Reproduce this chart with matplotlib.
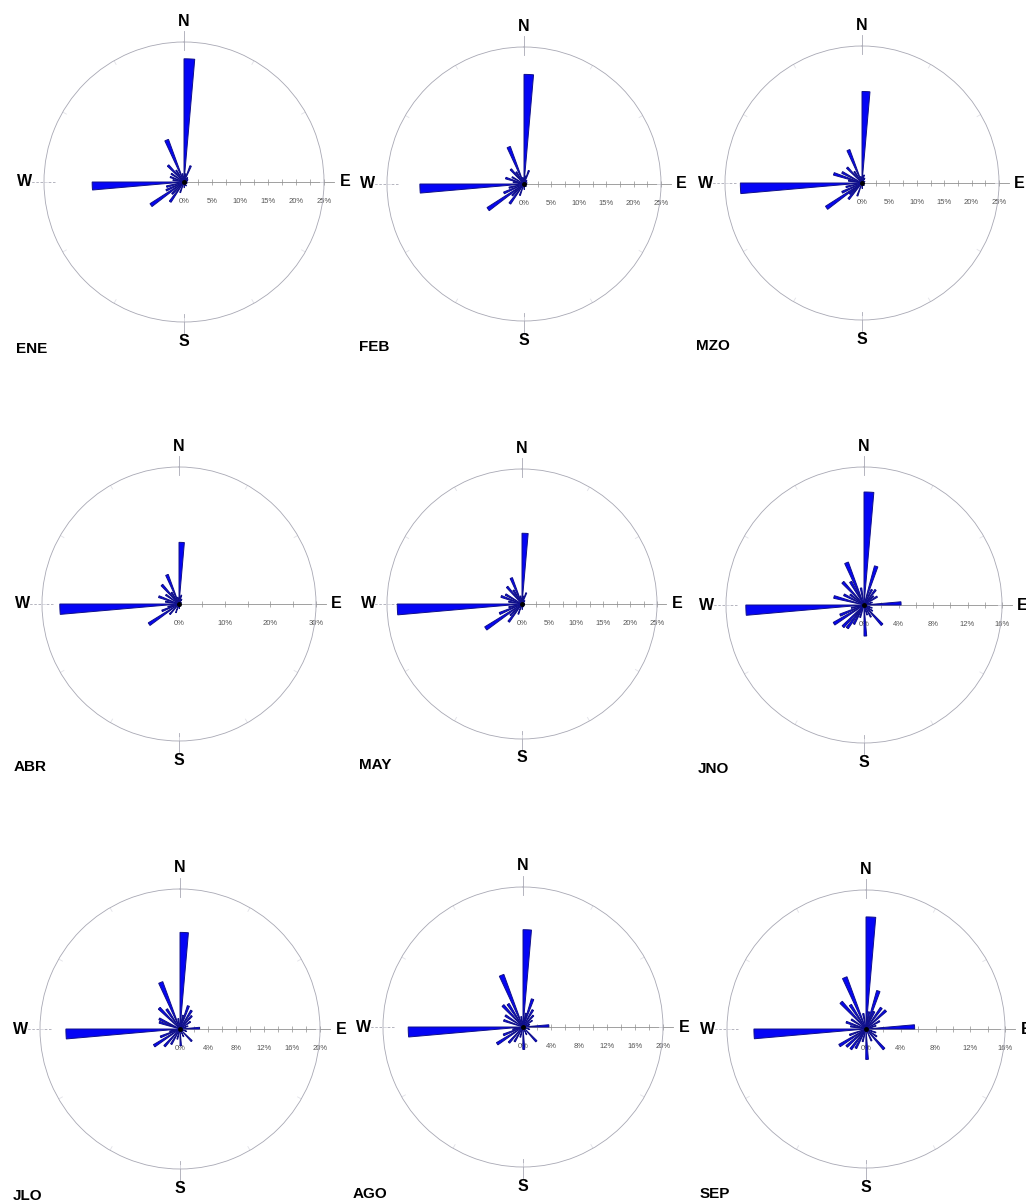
import numpy as np
import matplotlib
matplotlib.use("Agg")
import matplotlib.pyplot as plt

plt.rcParams['font.family'] = ['Liberation Sans', 'DejaVu Sans']

# rosas de viento mensuales: rumbo (grados) y frecuencia (%)
meses = ["ENE", "FEB", "MZO", "ABR", "MAY", "JNO", "JLO", "AGO", "SEP"]

ene_dir = [2.5, 12.5, 22.5, 40, 60, 90, 120, 150, 177.5, 200, 215, 225, 235, 245, 255, 267.5, 280, 290, 303, 316, 326, 337.5, 350]
ene_pct = [22.0, 1.5, 3.1, 1.0, 0.8, 0.6, 0.6, 0.8, 1.0, 2.0, 4.3, 3.0, 7.2, 3.5, 3.2, 16.4, 2.0, 2.6, 2.7, 4.1, 2.5, 8.1, 1.5]

feb_dir = [2.5, 12.5, 20, 40, 70, 100, 140, 177.5, 200, 216, 226, 235, 246, 256, 267.5, 280, 288, 300, 318, 327, 337.5, 350]
feb_pct = [20.0, 1.5, 2.6, 0.8, 0.6, 0.5, 0.6, 1.0, 2.2, 4.4, 3.0, 8.0, 4.0, 2.8, 19.0, 2.0, 3.5, 2.5, 3.6, 2.6, 7.3, 1.2]

mzo_dir = [2.5, 15, 30, 60, 100, 140, 177.5, 200, 220, 228, 235, 245, 256, 267.5, 280, 288, 298, 316, 326, 337.5, 350]
mzo_pct = [16.7, 1.5, 1.0, 0.6, 0.5, 0.6, 1.0, 2.5, 3.8, 3.0, 7.9, 4.0, 3.0, 22.2, 2.5, 5.4, 4.1, 3.9, 2.5, 6.5, 1.2]

abr_dir = [2.5, 15, 30, 60, 100, 140, 177.5, 200, 222, 236, 248, 256, 267.5, 280, 290, 305, 318, 327, 337.5, 350]
abr_pct = [13.5, 2.0, 1.2, 0.6, 0.5, 0.6, 1.0, 2.0, 3.0, 7.9, 4.0, 2.5, 26.1, 3.0, 4.7, 3.5, 5.6, 3.0, 6.9, 1.5]

may_dir = [2.5, 12.5, 21, 40, 70, 110, 150, 177.5, 200, 217, 226, 236, 247, 256, 267.5, 280, 290, 300, 319, 328, 337.5, 350]
may_pct = [13.1, 1.5, 2.2, 0.8, 0.5, 0.5, 0.6, 1.0, 2.0, 4.1, 3.0, 8.1, 4.5, 2.5, 23.1, 2.5, 4.1, 3.5, 4.2, 3.0, 5.2, 1.5]

jno_dir = [2.5, 17.5, 27, 37.5, 47, 57.5, 72.5, 87.5, 110, 125, 137.5, 150, 162.5, 177.5, 197.5, 208, 216, 224, 238, 247, 257, 267.5, 285, 297, 307, 317, 330, 337.5, 350]
jno_pct = [13.1, 4.7, 2.0, 2.2, 1.5, 1.8, 1.0, 4.3, 1.0, 1.2, 3.1, 1.6, 1.2, 3.6, 1.5, 2.5, 3.3, 3.5, 4.1, 3.0, 1.5, 13.7, 3.6, 2.6, 2.0, 3.6, 3.1, 5.3, 2.0]

jlo_dir = [2.5, 12.5, 20, 32, 42, 55, 70, 87.5, 110, 136, 155, 177.5, 195, 210, 222, 237, 248, 257, 267.5, 288, 296, 315, 326, 337.5, 350]
jlo_pct = [13.8, 2.0, 3.5, 3.1, 2.5, 1.8, 1.2, 2.8, 1.0, 2.4, 1.2, 2.4, 1.5, 2.5, 3.3, 4.4, 3.0, 1.5, 16.3, 3.1, 3.3, 4.2, 3.4, 7.2, 1.5]

ago_dir = [2.5, 12, 19, 30, 42, 55, 70, 87.5, 110, 137, 155, 178, 195, 210, 222, 237, 248, 257, 267.5, 289, 303, 317, 327, 337.5, 350]
ago_pct = [13.9, 2.0, 4.2, 2.8, 2.2, 1.6, 1.0, 3.7, 1.0, 2.8, 1.2, 3.2, 1.5, 2.4, 3.0, 4.4, 3.0, 1.5, 16.4, 2.9, 3.0, 4.2, 3.9, 8.0, 1.5]

sep_dir = [2.5, 10, 18, 25, 36, 47, 60, 72, 87.5, 110, 125, 138, 155, 178, 195, 208, 217, 228, 238, 250, 267.5, 280, 289, 303, 317, 327, 337.5, 350]
sep_pct = [12.9, 2.0, 4.6, 2.2, 3.0, 3.1, 1.8, 1.2, 5.6, 1.2, 1.5, 3.1, 1.5, 3.5, 1.5, 2.5, 2.9, 3.0, 3.6, 2.0, 12.9, 1.8, 2.4, 2.0, 4.2, 3.3, 6.4, 1.8]

direcciones = [ene_dir, feb_dir, mzo_dir, abr_dir, may_dir, jno_dir, jlo_dir, ago_dir, sep_dir]
frecuencias = [ene_pct, feb_pct, mzo_pct, abr_pct, may_pct, jno_pct, jlo_pct, ago_pct, sep_pct]

# escala maxima y paso de etiquetas de cada rosa
r_max = [25, 25, 25, 30, 25, 16, 20, 20, 16]
paso = [5, 5, 5, 10, 5, 4, 4, 4, 4]

# posicion de cada rosa en pixeles (centro x, centro y, radio)
centros = [(184, 182, 140), (524, 184, 137), (862, 183, 137),
           (179, 604, 137), (522, 604, 135), (864, 605, 138),
           (180, 1029, 140), (523, 1027, 140), (866, 1029, 139)]

W, H = 1026, 1201
fig = plt.figure(figsize=(W / 100, H / 100), dpi=100)

gris = '#a8a8b4'

for i in range(9):
    cx, cy, r = centros[i]
    rm = r_max[i]
    rect = [(cx - r) / W, (H - cy - r) / H, 2 * r / W, 2 * r / H]

    # ejes cartesianos de fondo para el eje de escala y las letras
    axc = fig.add_axes(rect, zorder=0)
    axc.set_xlim(-rm, rm)
    axc.set_ylim(-rm, rm)
    axc.patch.set_visible(False)
    for s in ['top', 'right', 'left']:
        axc.spines[s].set_visible(False)
    axc.spines['bottom'].set_position(('data', 0))
    axc.spines['bottom'].set_bounds(0, rm * 1.07)
    axc.spines['bottom'].set_color('#909090')
    axc.spines['bottom'].set_linewidth(0.6)
    axc.set_yticks([])
    mayores = np.arange(0, rm + 0.01, paso[i])
    axc.set_xticks(mayores)
    axc.set_xticklabels([f"{int(v)}%" for v in mayores])
    axc.set_xticks(np.arange(0, rm + 0.01, paso[i] / 2), minor=True)
    axc.tick_params(axis='x', which='both', direction='inout', length=5,
                    width=0.5, color='#909090', labelsize=5.5, labelcolor='#555555', pad=9)

    # marcas cortas en N, S y W
    axc.plot([0, 0], [rm * 0.94, rm * 1.08], color=gris, lw=0.6, clip_on=False)
    axc.plot([0, 0], [-rm * 0.94, -rm * 1.08], color=gris, lw=0.6, clip_on=False)
    axc.plot([-rm * 0.92, -rm * 1.1], [0, 0], color=gris, lw=0.6, ls=(0, (3, 2)), clip_on=False)

    fb = dict(fontsize=11.5, fontweight='bold', ha='center', va='center', clip_on=False)
    axc.text(0, rm * 1.15, "N", **fb)
    axc.text(0, -rm * 1.14, "S", **fb)
    axc.text(-rm * 1.14, 0, "W", **fb)
    axc.text(rm * 1.15, 0, "E", **fb)
    axc.text(-rm * 1.09, -rm * 1.19, meses[i], fontsize=11, fontweight='bold',
             ha='center', va='center', clip_on=False)

    # rosa polar
    ax = fig.add_axes(rect, projection='polar', zorder=1)
    ax.patch.set_alpha(0)
    ax.set_theta_zero_location('N')
    ax.set_theta_direction(-1)
    ax.set_ylim(0, rm)
    ax.set_xticks([])
    ax.set_yticks([])
    ax.grid(False)
    ax.spines['polar'].set_edgecolor(gris)
    ax.spines['polar'].set_linewidth(0.6)
    for a in range(30, 360, 30):
        ax.plot([np.radians(a)] * 2, [rm * 0.97, rm], color='#e2e2e8', lw=0.6)
    ax.bar(np.radians(direcciones[i]), frecuencias[i], width=np.radians(5),
           bottom=0, color='#0505f5', edgecolor='#10108a', linewidth=0.7)
    ax.plot([0], [0], 'o', color='black', ms=2.5)

fig.savefig("out.png", dpi=100, facecolor='white')
